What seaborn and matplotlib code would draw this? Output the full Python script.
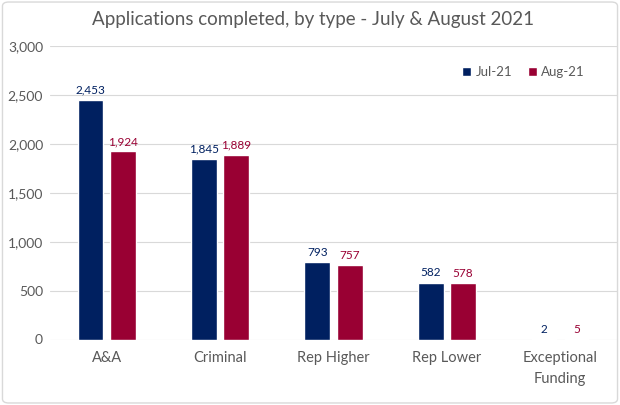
import matplotlib
matplotlib.use("Agg")
import matplotlib.pyplot as plt
import seaborn as sns
import pandas as pd
from matplotlib.patches import FancyBboxPatch
from matplotlib.ticker import FuncFormatter

categories = ["A&A", "Criminal", "Rep Higher", "Rep Lower", "Exceptional\nFunding"]
series = ["Jul-21", "Aug-21"]
jul_values = [2453, 1845, 793, 582, 2]
aug_values = [1924, 1889, 757, 578, 5]
colors = ["#002060", "#990033"]
title = "Applications completed, by type - July & August 2021"

df = pd.DataFrame({
    "category": categories * 2,
    "month": [series[0]] * len(categories) + [series[1]] * len(categories),
    "value": jul_values + aug_values,
})

sns.set_theme(style="white")
plt.rcParams["font.family"] = ["Lato", "DejaVu Sans"]

fig = plt.figure(figsize=(6.2, 4.05), dpi=100)
ax = fig.add_axes([50 / 620, (405 - 339.5) / 405, 567 / 620, (339.5 - 46) / 405])

sns.barplot(data=df, x="category", y="value", hue="month", palette=colors,
            width=0.57, gap=0.2, ax=ax, saturation=1, errorbar=None)

ax.set_ylim(0, 3000)
ax.set_yticks(range(0, 3001, 500))
ax.yaxis.set_major_formatter(FuncFormatter(lambda v, p: f"{v:,.0f}"))
ax.grid(axis="y", color="#d9d9d9", linewidth=0.8)
ax.set_axisbelow(True)
for s in ax.spines.values():
    s.set_visible(False)
ax.tick_params(axis="both", length=0, colors="#595959", labelsize=10.5)
ax.tick_params(axis="y", labelsize=10, pad=5)
ax.tick_params(axis="x", pad=8)
for lbl in ax.get_xticklabels():
    lbl.set_linespacing(1.7)
ax.set_xlabel("")
ax.set_ylabel("")

for cont, c in zip(ax.containers, colors):
    ax.bar_label(cont, labels=[f"{v:,.0f}" for v in cont.datavalues],
                 color=c, fontsize=8.5, padding=3)

leg = ax.legend(loc="center", bbox_to_anchor=(0.835, 0.91), ncol=2, frameon=False,
                fontsize=9.5, handlelength=0.7, handleheight=0.7, handletextpad=0.3,
                columnspacing=1.2)
for t in leg.get_texts():
    t.set_color("#595959")

fig.text(0.505, 0.953, title, ha="center", va="center", fontsize=13.5, color="#595959")

border = FancyBboxPatch((0.004, 0.005), 0.992, 0.99, boxstyle="round,pad=0,rounding_size=0.01",
                        transform=fig.transFigure, fill=False, edgecolor="#d9d9d9", linewidth=1)
fig.patches.append(border)

fig.savefig("out.png", dpi=100)
